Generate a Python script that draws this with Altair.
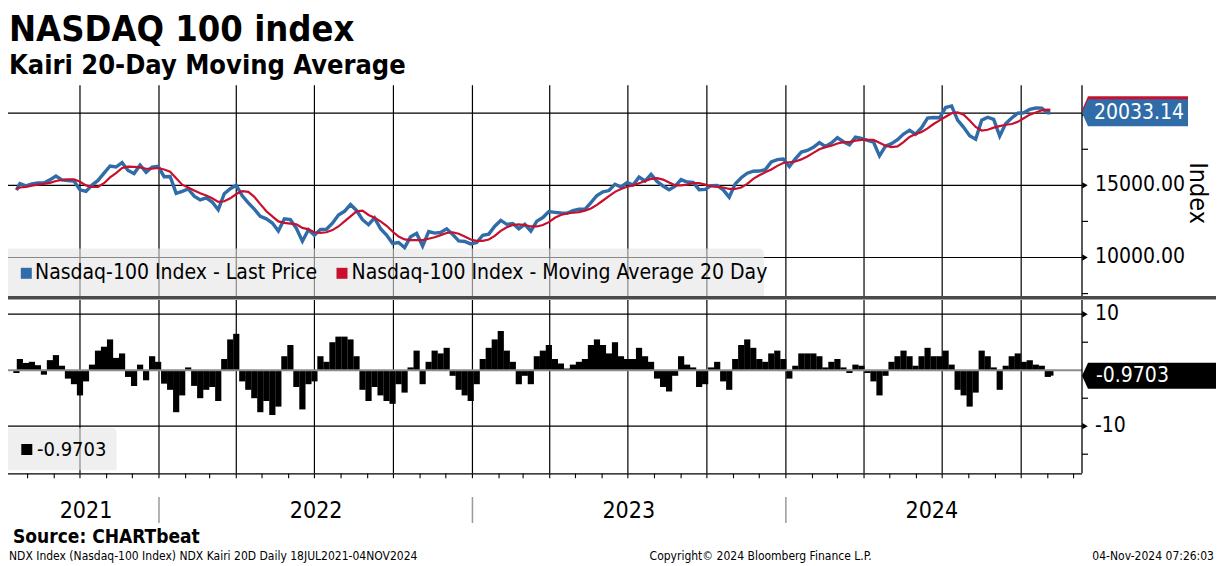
import altair as alt
import pandas as pd

# ---------------- data ----------------
# weekly closes: 2021-07-19, then every Friday, then 2024-11-04
price_2021 = [14670, 15120, 14960, 15100, 15170, 15160, 15380, 15650, 15380, 15330, 15300, 14690,
              14580, 15020, 15340, 15850, 16340, 16270, 16570, 16030, 15820, 16410, 15900, 16270, 16320]
price_2022 = [15600, 15610, 14440, 14580, 14750, 14250, 13990, 14130, 13840, 13300, 14420, 14770,
              15000, 14280, 13790, 13350, 12850, 12680, 12390, 11840, 12680, 12620, 12020, 11130, 11920,
              11540, 11950, 11960, 12380, 12950, 13200, 13670, 13260, 12620, 12270, 12740, 11990, 11550, 10970,
              11040, 10690, 11430, 11670, 10790, 11800, 11690, 11740, 11990, 11600, 11150, 11110, 10940]
price_2023 = [11040, 11540, 11620, 12170, 12570, 12300, 12360, 11990, 12300, 11830, 12520, 12770, 13180,
              13130, 13080, 13070, 13250, 13340, 13340, 13810, 14300, 14550, 14640, 15080, 14890, 15180,
              15030, 15570, 15300, 15760, 15270, 14950, 14700, 14940, 15400, 15230, 15200, 14700, 14720,
              14980, 14990, 14690, 14180, 15100, 15530, 15840, 15980, 15990, 16090, 16620, 16780, 16830]
price_2024 = [16310, 16830, 17310, 17420, 17640, 17960, 17690, 17940, 18300, 18020, 17810, 18340, 18250,
              18110, 18000, 17040, 17720, 17890, 18160, 18550, 18810, 18540, 19000, 19660, 19700, 19680,
              20390, 20500, 19520, 19020, 18440, 18200, 19510, 19720, 19570, 18420, 19290, 19670, 20000,
              20030, 20270, 20360, 20350, 20030, 20033.14]

ma_2021 = [14750, 14850, 14900, 14980, 15050, 15100, 15170, 15300, 15370, 15420, 15420, 15250,
           15000, 14900, 14900, 15150, 15550, 15850, 16200, 16300, 16280, 16250, 16150, 16150, 16200]
ma_2022 = [16100, 15950, 15500, 15050, 14850, 14650, 14450, 14300, 14100, 13850, 13900, 14100,
           14400, 14600, 14550, 14200, 13700, 13200, 12850, 12500, 12400, 12350, 12300, 12050, 11950,
           11750, 11700, 11750, 11900, 12150, 12500, 12850, 13200, 13250, 12950, 12750, 12500, 12200, 11800,
           11450, 11250, 11200, 11200, 11200, 11300, 11400, 11550, 11700, 11750, 11650, 11450, 11250]
ma_2023 = [11150, 11150, 11250, 11500, 11850, 12100, 12250, 12300, 12250, 12150, 12150, 12250, 12450,
           12750, 12950, 13050, 13100, 13150, 13250, 13400, 13650, 13950, 14250, 14550, 14750, 14900,
           15000, 15150, 15300, 15450, 15500, 15400, 15200, 15000, 15000, 15050, 15150, 15150, 15050,
           14950, 14900, 14850, 14750, 14750, 14850, 15100, 15450, 15700, 15900, 16100, 16350, 16550]
ma_2024 = [16600, 16650, 16800, 17000, 17250, 17500, 17650, 17750, 17900, 18000, 18000, 18100, 18150,
           18150, 18150, 17950, 17750, 17650, 17700, 18000, 18350, 18550, 18700, 18950, 19250, 19500,
           19750, 20000, 20050, 19900, 19500, 19050, 18800, 18850, 19000, 19100, 19200, 19250, 19400,
           19650, 19900, 20050, 20200, 20250, 20230]

kairi_2021 = [-0.5, 2.0, 1.3, 1.5, 0.9, -0.8, 1.8, 2.7, 0.8, -1.5, -2.5, -4.5,
              -2.0, 1.0, 3.5, 4.2, 5.5, 2.2, 3.0, -1.2, -2.8, 1.0, -1.8, 2.5, 1.5]
kairi_2022 = [-2.4, -3.5, -7.5, -4.5, 0.5, -2.8, -5.0, -3.5, -3.0, -5.5, 2.0, 5.5,
              6.5, -2.0, -3.5, -5.0, -7.5, -5.5, -8.0, -6.5, 2.5, 4.5, -3.0, -7.0, -2.5,
              -2.0, 2.5, 1.5, 5.0, 6.0, 6.0, 5.5, 2.5, -3.5, -5.5, -3.0, -4.5, -5.5, -6.0,
              -2.5, -4.0, 0.5, 3.5, -2.5, 1.5, 3.5, 3.0, 4.0, -1.0, -3.5, -4.5, -5.5]
kairi_2023 = [-2.5, 2.0, 4.0, 5.5, 7.0, 3.5, 1.5, -2.5, -1.0, -2.5, 2.5, 3.5, 4.5,
              2.0, 1.2, 0.3, 1.0, 1.5, 2.0, 4.5, 5.5, 4.5, 3.0, 5.0, 2.5, 2.0,
              2.0, 4.0, 2.5, 1.5, -1.5, -3.0, -3.8, -1.0, 2.5, 1.0, 0.5, -3.0, -2.5,
              0.5, 1.5, -2.0, -3.5, 2.0, 4.5, 5.5, 4.0, 2.0, 1.5, 3.0, 3.5, 2.0]
kairi_2024 = [-1.5, 0.8, 3.0, 3.0, 3.0, 2.5, 0.5, 1.5, 2.0, 0.5, -0.5, 1.0, 0.8,
              -0.5, -2.0, -4.5, -1.0, 1.5, 2.5, 3.5, 2.5, 0.8, 2.5, 4.0, 2.5, 2.5,
              3.5, 1.0, -3.5, -4.5, -6.5, -4.0, 3.5, 2.5, 0.5, -3.5, 0.8, 2.5, 3.0,
              1.5, 1.8, 1.0, 0.8, -1.2, -0.9703]

price = price_2021 + price_2022 + price_2023 + price_2024
ma20 = ma_2021 + ma_2022 + ma_2023 + ma_2024
kairi = kairi_2021 + kairi_2022 + kairi_2023 + kairi_2024
fridays = [d.strftime("%Y-%m-%d") for d in pd.date_range("2021-07-23", "2024-11-01", freq="W-FRI")]
week_dates = ["2021-07-19"] + fridays + ["2024-11-04"]

quarter_dates = ["2021-10-01", "2022-01-01", "2022-04-01", "2022-07-01", "2022-10-01", "2023-01-01",
                 "2023-04-01", "2023-07-01", "2023-10-01", "2024-01-01", "2024-04-01", "2024-07-01",
                 "2024-10-01"]
month_ticks = [d.strftime("%Y-%m-%d") for d in pd.date_range("2021-08-01", "2024-12-01", freq="MS")]
year_bounds = ["2022-01-01", "2023-01-01", "2024-01-01"]
year_labels = ["2021", "2022", "2023", "2024"]
year_label_dates = ["2021-10-08", "2022-07-03", "2023-07-02", "2024-06-19"]

price_grid = [10000, 15000, 20000]
price_minor = [7500, 12500, 17500]
price_tick_labels = [10000, 15000]
kairi_grid = [10, -10]
kairi_minor = [5, -5, -15]
kairi_tick_labels = ["10", "-10"]

series_names = ["Nasdaq-100 Index - Last Price", "Nasdaq-100 Index - Moving Average 20 Day"]
last_price_label = "20033.14"
last_kairi_label = "-0.9703"

# ---------------- styling ----------------
FONT = "DejaVu Sans Condensed, DejaVu Sans, sans-serif"
BLUE = "#2f6ca8"
RED = "#c8102e"
PLOT_R = 1074

X = alt.Scale(domain=[alt.DateTime(year=2021, month=7, date=15, utc=True),
                      alt.DateTime(year=2024, month=12, date=5, utc=True)], range=[0, PLOT_R])
YP = alt.Scale(domain=[7325, 21940], range=[288.1, 77.2], zero=False, nice=False)
YK = alt.Scale(domain=[-18.41, 12.54], range=[465.3, 292.0], zero=False, nice=False)

df = pd.DataFrame({"date": week_dates, "price": price, "ma": ma20, "kairi": kairi})
one = pd.DataFrame({"a": [0]})


def xdate(field):
    return alt.X(field, scale=X, axis=None)


def text_layer(txt, x, y, size, bold=False, align="left", baseline="alphabetic", color="black", angle=0):
    return alt.Chart(pd.DataFrame({"t": [txt]})).mark_text(
        font=FONT, fontSize=size, fontWeight="bold" if bold else "normal", align=align,
        baseline=baseline, color=color, angle=angle
    ).encode(x=alt.value(x), y=alt.value(y), text="t:N")


layers = []

# vertical quarter gridlines
qdf = pd.DataFrame({"d": quarter_dates})
layers.append(alt.Chart(qdf).mark_rule(color="black", strokeWidth=1.2).encode(
    x=xdate("d:T"), y=alt.value(77.2), y2=alt.value(288.1)))
layers.append(alt.Chart(qdf).mark_rule(color="black", strokeWidth=1.2).encode(
    x=xdate("d:T"), y=alt.value(292.0), y2=alt.value(465.3)))
# horizontal gridlines
layers.append(alt.Chart(pd.DataFrame({"v": price_grid})).mark_rule(color="black", strokeWidth=1.2).encode(
    y=alt.Y("v:Q", scale=YP, axis=None), x=alt.value(0), x2=alt.value(PLOT_R)))
layers.append(alt.Chart(pd.DataFrame({"v": kairi_grid})).mark_rule(color="black", strokeWidth=1.2).encode(
    y=alt.Y("v:Q", scale=YK, axis=None), x=alt.value(0), x2=alt.value(PLOT_R)))

# legend boxes (semi transparent)
layers.append(alt.Chart(one).mark_rect(fill="#e4e4e4", opacity=0.6, cornerRadiusTopRight=5).encode(
    x=alt.value(0), x2=alt.value(756), y=alt.value(240.5), y2=alt.value(288.1)))
layers.append(alt.Chart(one).mark_rect(fill="#e4e4e4", opacity=0.6, cornerRadiusTopRight=5).encode(
    x=alt.value(0), x2=alt.value(108.6), y=alt.value(419.7), y2=alt.value(462.3)))

# kairi bars
layers.append(alt.Chart(df).mark_bar(color="black", size=6.2).encode(
    x=xdate("date:T"), y=alt.Y("kairi:Q", scale=YK, axis=None), y2=alt.datum(0)))
# zero line
layers.append(alt.Chart(pd.DataFrame({"v": [0]})).mark_rule(color="#8c8c8c", strokeWidth=2).encode(
    y=alt.Y("v:Q", scale=YK, axis=None), x=alt.value(0), x2=alt.value(PLOT_R)))

# price and moving average
layers.append(alt.Chart(df).mark_line(color=BLUE, strokeWidth=3.4).encode(
    x=xdate("date:T"), y=alt.Y("price:Q", scale=YP, axis=None)))
layers.append(alt.Chart(df).mark_line(color=RED, strokeWidth=2.2).encode(
    x=xdate("date:T"), y=alt.Y("ma:Q", scale=YP, axis=None)))

# legend contents
layers.append(alt.Chart(one).mark_square(size=121, color=BLUE, opacity=1).encode(
    x=alt.value(18.3), y=alt.value(265.3)))
layers.append(alt.Chart(one).mark_square(size=121, color=RED, opacity=1).encode(
    x=alt.value(334), y=alt.value(265.3)))
layers.append(text_layer(series_names[0], 27, 265.3, 21, baseline="middle"))
layers.append(text_layer(series_names[1], 343.5, 265.3, 21, baseline="middle"))
layers.append(alt.Chart(one).mark_square(size=121, color="black", opacity=1).encode(
    x=alt.value(18.8), y=alt.value(441.5)))
layers.append(text_layer(last_kairi_label, 29, 441.5, 20, baseline="middle"))

# panel separator
layers.append(alt.Chart(one).mark_rect(fill="#4a4a4a").encode(
    x=alt.value(0), x2=alt.value(1208), y=alt.value(288.1), y2=alt.value(291.6)))

# right axes
layers.append(alt.Chart(one).mark_rule(color="black", strokeWidth=1.3).encode(
    x=alt.value(PLOT_R), y=alt.value(77.2), y2=alt.value(288.1)))
layers.append(alt.Chart(one).mark_rule(color="black", strokeWidth=1.3).encode(
    x=alt.value(PLOT_R), y=alt.value(292.0), y2=alt.value(465.3)))
layers.append(alt.Chart(pd.DataFrame({"v": price_grid})).mark_point(
    shape="triangle-right", filled=True, size=40, color="black", opacity=1).encode(
    x=alt.value(PLOT_R + 3), y=alt.Y("v:Q", scale=YP, axis=None)))
layers.append(alt.Chart(pd.DataFrame({"v": kairi_grid})).mark_point(
    shape="triangle-right", filled=True, size=40, color="black", opacity=1).encode(
    x=alt.value(PLOT_R + 3), y=alt.Y("v:Q", scale=YK, axis=None)))
layers.append(alt.Chart(pd.DataFrame({"v": price_minor})).mark_rule(color="black", strokeWidth=1.2).encode(
    y=alt.Y("v:Q", scale=YP, axis=None), x=alt.value(PLOT_R), x2=alt.value(PLOT_R + 6)))
layers.append(alt.Chart(pd.DataFrame({"v": kairi_minor})).mark_rule(color="black", strokeWidth=1.2).encode(
    y=alt.Y("v:Q", scale=YK, axis=None), x=alt.value(PLOT_R), x2=alt.value(PLOT_R + 6)))
layers.append(alt.Chart(pd.DataFrame({"v": price_tick_labels})).mark_text(
    font=FONT, fontSize=21, align="left", baseline="middle", color="black").encode(
    x=alt.value(1087), y=alt.Y("v:Q", scale=YP, axis=None), text=alt.Text("v:Q", format=".2f")))
layers.append(alt.Chart(pd.DataFrame({"v": kairi_grid, "t": kairi_tick_labels})).mark_text(
    font=FONT, fontSize=21, align="left", baseline="middle", color="black").encode(
    x=alt.value(1087), y=alt.Y("v:Q", scale=YK, axis=None), text="t:N"))

# last value boxes
PRICE_BOX = "M -1 0 L -0.887 -0.255 L 1 -0.255 L 1 0.255 L -0.887 0.255 Z"
KAIRI_BOX = "M -1 0 L -0.91 -0.194 L 1 -0.194 L 1 0.194 L -0.91 0.194 Z"
last = df.tail(1)
layers.append(alt.Chart(last).mark_point(shape=PRICE_BOX, filled=True, size=106 ** 2, color=RED,
                                         opacity=1, strokeOpacity=0).encode(
    x=alt.value(PLOT_R + 53), y=alt.Y("ma:Q", scale=YP, axis=None)))
layers.append(alt.Chart(last).mark_point(shape=PRICE_BOX, filled=True, size=106 ** 2, color=BLUE,
                                         opacity=1, strokeOpacity=0).encode(
    x=alt.value(PLOT_R + 53), y=alt.Y("price:Q", scale=YP, axis=None)))
layers.append(alt.Chart(last).mark_text(font=FONT, fontSize=21, align="left", baseline="middle",
                                        color="white").encode(
    x=alt.value(1086), y=alt.Y("price:Q", scale=YP, axis=None), text=alt.value(last_price_label)))
layers.append(alt.Chart(last).mark_point(shape=KAIRI_BOX, filled=True, size=134 ** 2, color="black",
                                         opacity=1, strokeOpacity=0).encode(
    x=alt.value(PLOT_R + 67), y=alt.Y("kairi:Q", scale=YK, axis=None)))
layers.append(alt.Chart(last).mark_text(font=FONT, fontSize=21, align="left", baseline="middle",
                                        color="white").encode(
    x=alt.value(1088), y=alt.Y("kairi:Q", scale=YK, axis=None), text=alt.value(last_kairi_label)))

# y title
layers.append(text_layer("Index", 1190, 185.1, 25, align="center", baseline="middle", angle=90))

# x axis
layers.append(alt.Chart(one).mark_rule(color="black", strokeWidth=1.3).encode(
    x=alt.value(0), x2=alt.value(PLOT_R), y=alt.value(465.8)))
layers.append(alt.Chart(pd.DataFrame({"d": month_ticks})).mark_rule(color="black", strokeWidth=1.1).encode(
    x=xdate("d:T"), y=alt.value(465.8), y2=alt.value(470.2)))
layers.append(alt.Chart(pd.DataFrame({"d": year_bounds})).mark_rule(color="#9a9a9a", strokeWidth=1.5).encode(
    x=xdate("d:T"), y=alt.value(489), y2=alt.value(515)))
layers.append(alt.Chart(pd.DataFrame({"d": year_label_dates, "t": year_labels})).mark_text(
    font=FONT, fontSize=23, align="center", baseline="middle", color="black").encode(
    x=xdate("d:T"), y=alt.value(503), text="t:N"))

# titles and footer
layers.append(text_layer("NASDAQ 100 index", 1, 32.5, 36, bold=True))
layers.append(text_layer("Kairi 20-Day Moving Average", 1, 65.5, 27, bold=True))
layers.append(text_layer("Source: CHARTbeat", 5, 534.6, 19, bold=True))
layers.append(text_layer("NDX Index (Nasdaq-100 Index) NDX Kairi 20D  Daily 18JUL2021-04NOV2024", 1, 552.4, 12))
layers.append(text_layer("Copyright\u00a9 2024 Bloomberg Finance L.P.", 641.6, 552.4, 12))
layers.append(text_layer("04-Nov-2024 07:26:03", 1206, 552.4, 12, align="right"))

chart = alt.layer(*layers).resolve_scale(y="independent").properties(
    width=1208, height=558, autosize=alt.AutoSizeParams(type="none"), padding=0, background="white"
).configure_view(stroke=None)

chart.save("out.html", embed_options={"renderer": "svg", "actions": False})
